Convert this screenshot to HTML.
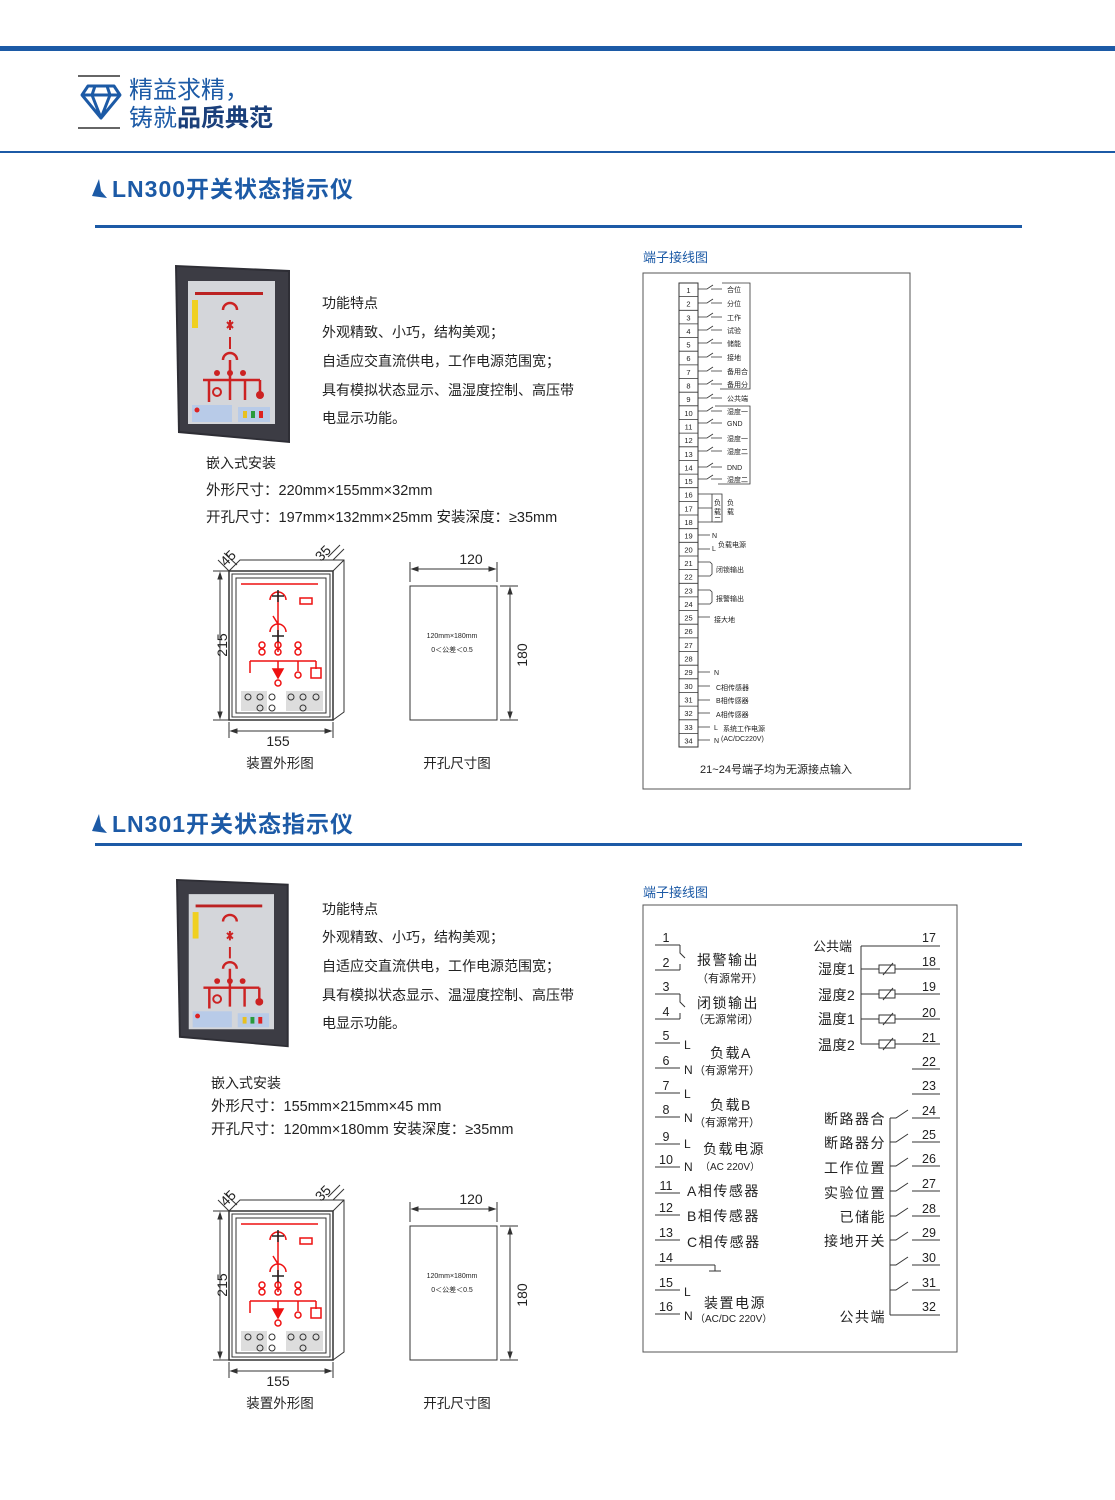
<!DOCTYPE html>
<html><head><meta charset="utf-8"><style>
html,body{margin:0;padding:0;background:#fff}
svg{display:block}
text{font-family:"Liberation Sans","Noto Sans CJK SC",sans-serif}
</style></head><body>
<svg width="1115" height="1500" viewBox="0 0 1115 1500" xmlns="http://www.w3.org/2000/svg">
<defs>
<g id="dev">
  <path d="M0,0 L115,5 L115,178 L3,168 Z" fill="#2e2e35"/>
  <path d="M2,2 L113,7 L113,176 L5,166 Z" fill="#3c3c44"/>
  <rect x="13" y="16" width="87" height="143" fill="#d4d6da"/>
  <rect x="20" y="27" width="68" height="3" fill="#b22"/>
  <rect x="17" y="35" width="6" height="28" fill="#f0d020"/>
  <path d="M48,45 a7,7 0 0 1 14,0" fill="none" stroke="#c22" stroke-width="2.5"/>
  <path d="M55,55 l0,10 M52,57 l6,6 M58,57 l-6,6 M55,72 l0,12" stroke="#c22" stroke-width="2"/>
  <path d="M48,95 a7,7 0 0 1 14,0" fill="none" stroke="#c22" stroke-width="2.5"/>
  <path d="M55,95 l0,40 M28,115 l57,0 M34,115 l0,22 M70,115 l0,20 M85,115 l0,15" stroke="#c22" stroke-width="2.5"/>
  <circle cx="42" cy="108" r="3" fill="#c22"/><circle cx="55" cy="108" r="3" fill="#c22"/><circle cx="68" cy="108" r="3" fill="#c22"/>
  <circle cx="42" cy="127" r="4" fill="none" stroke="#c22" stroke-width="2"/><circle cx="85" cy="130" r="4" fill="#c22"/>
  <rect x="17" y="140" width="40" height="17" fill="#b8cbe8"/>
  <rect x="63" y="142" width="32" height="15" fill="#b8cbe8"/>
  <rect x="68" y="146" width="4" height="7" fill="#e8c020"/><rect x="76" y="146" width="4" height="7" fill="#2a9a3a"/><rect x="84" y="146" width="4" height="7" fill="#d22"/>
  <circle cx="22" cy="145" r="2.5" fill="#d22"/>
</g>
<g id="outl" fill="none" stroke="#333" stroke-width="1">
  <path d="M229,571 L240,560 L344,560 L344,712 L333,720"/>
  <path d="M333,571 L344,560"/>
  <rect x="229" y="571" width="104" height="149" stroke-width="1.5"/>
  <rect x="232" y="574" width="98" height="143"/>
  <rect x="236" y="578" width="90" height="135" fill="#fff"/>
  <line x1="213" y1="571" x2="229" y2="571"/><line x1="213" y1="720" x2="229" y2="720"/>
  <line x1="220" y1="573" x2="220" y2="718"/>
  <path d="M220,573 l-2,6 l4,0z M220,718 l-2,-6 l4,0z" fill="#333"/>
  <line x1="229" y1="722" x2="229" y2="738"/><line x1="333" y1="722" x2="333" y2="738"/>
  <line x1="231" y1="731" x2="331" y2="731"/>
  <path d="M231,731 l6,-2 l0,4z M331,731 l-6,-2 l0,4z" fill="#333"/>
  <line x1="218" y1="560" x2="229" y2="571"/><line x1="224" y1="553" x2="237" y2="565"/>
  <line x1="333" y1="560" x2="344" y2="549"/>
  <line x1="328" y1="557" x2="340" y2="545"/>
  <g stroke="#e11" stroke-width="1.5">
    <line x1="241" y1="584" x2="318" y2="584"/>
    <path d="M270,600 a8,8 0 0 1 16,0 M270,632 a8,8 0 0 1 16,0"/>
    <path d="M278,592 l0,60 M278,624 l-5,-8 M250,661 l66,0 M250,661 l0,12 M278,661 l0,8 M298,661 l0,10 M316,661 l0,8"/>
    <circle cx="262" cy="645" r="3"/><circle cx="278" cy="645" r="3"/><circle cx="298" cy="645" r="3"/>
    <circle cx="262" cy="652" r="3"/><circle cx="278" cy="652" r="3"/><circle cx="298" cy="652" r="3"/>
    <path d="M273,669 l10,0 l-5,9z" fill="#e11"/>
    <circle cx="298" cy="675" r="3"/><circle cx="278" cy="683" r="3"/>
    <rect x="311" y="668" width="10" height="10"/>
    <rect x="300" y="598" width="12" height="6"/>
  </g>
  <path d="M272,596 l12,0 M278,590 l0,12 M272,636 l12,0 M278,630 l0,12" stroke="#222" stroke-width="1.5"/>
  <rect x="241" y="691" width="26" height="20" fill="#ddd" stroke="none"/>
  <rect x="286" y="691" width="37" height="20" fill="#ddd" stroke="none"/>
  <circle cx="248" cy="697" r="3"/><circle cx="260" cy="697" r="3"/><circle cx="272" cy="697" r="3"/>
  <circle cx="260" cy="708" r="3"/><circle cx="272" cy="708" r="3"/>
  <circle cx="291" cy="697" r="3"/><circle cx="303" cy="697" r="3"/><circle cx="316" cy="697" r="3"/><circle cx="303" cy="708" r="3"/>
</g>
<g id="cut" fill="none" stroke="#333" stroke-width="1">
  <rect x="410" y="586" width="87" height="134"/>
  <line x1="410" y1="562" x2="410" y2="582"/><line x1="497" y1="562" x2="497" y2="582"/>
  <line x1="412" y1="569" x2="495" y2="569"/>
  <path d="M412,569 l6,-2 l0,4z M495,569 l-6,-2 l0,4z" fill="#333"/>
  <line x1="500" y1="586" x2="518" y2="586"/><line x1="500" y1="720" x2="518" y2="720"/>
  <line x1="510" y1="588" x2="510" y2="718"/>
  <path d="M510,588 l-2,6 l4,0z M510,718 l-2,-6 l4,0z" fill="#333"/>
</g>
</defs>

<!-- header -->
<rect x="0" y="46" width="1115" height="5" fill="#1c5aa6"/>
<line x1="78" y1="76" x2="120" y2="76" stroke="#333" stroke-width="1.5"/>
<line x1="78" y1="128" x2="120" y2="128" stroke="#333" stroke-width="1.5"/>
<g fill="none" stroke="#1c5aa6" stroke-width="3" stroke-linejoin="round">
<path d="M82,95 L88,86 L114,86 L120,95 L101,118 Z M82,95 L120,95 M95,86 L92,95 L101,118 L110,95 L107,86"/>
</g>
<text x="129" y="98" font-size="24" fill="#1c5aa6">精益求精，</text>
<text x="129" y="126" font-size="24" fill="#1c5aa6">铸就<tspan font-weight="bold" fill="#1a3f7a">品质典范</tspan></text>
<rect x="0" y="151" width="1115" height="2" fill="#1c5aa6"/>

<!-- section 1 -->
<path d="M99,179 L92,196 L107,198 L101,191 Z" fill="#1c5aa6"/>
<text x="112" y="197" font-size="23" font-weight="bold" fill="#1c5aa6" letter-spacing="1">LN300开关状态指示仪</text>
<rect x="95" y="225" width="927" height="3" fill="#1c5aa6"/>
<use href="#dev" transform="translate(175,265)"/>
<g font-size="14" fill="#222">
<text x="322" y="308">功能特点</text>
<text x="322" y="337">外观精致、小巧，结构美观；</text>
<text x="322" y="366">自适应交直流供电，工作电源范围宽；</text>
<text x="322" y="395">具有模拟状态显示、温湿度控制、高压带</text>
<text x="322" y="423">电显示功能。</text>
<text x="206" y="468">嵌入式安装</text>
<text x="206" y="495" font-size="14.5">外形尺寸：220mm×155mm×32mm</text>
<text x="206" y="522" font-size="14.5">开孔尺寸：197mm×132mm×25mm  安装深度：≥35mm</text>
</g>
<use href="#outl"/>
<use href="#cut"/>
<g font-size="14" fill="#222">
<text x="218" y="562" transform="rotate(-45 228 555)">45</text>
<text x="315" y="562" transform="rotate(-45 318 555)">35</text>
<text x="218" y="654" transform="rotate(-90 218 645)" text-anchor="middle">215</text>
<text x="278" y="746" text-anchor="middle">155</text>
<text x="280" y="768" text-anchor="middle" font-size="13.5">装置外形图</text>
<text x="471" y="564" text-anchor="middle">120</text>
<text x="527" y="655" transform="rotate(-90 527 655)" text-anchor="middle">180</text>
<text x="457" y="768" text-anchor="middle" font-size="13.5">开孔尺寸图</text>
<text x="452" y="638" text-anchor="middle" font-size="7">120mm×180mm</text>
<text x="452" y="652" text-anchor="middle" font-size="7">0＜公差＜0.5</text>
</g>

<text x="643" y="262" font-size="13" fill="#1c5aa6">端子接线图</text>
<rect x="643" y="273" width="267" height="516" fill="none" stroke="#555" stroke-width="1"/>
<rect x="679" y="283" width="19" height="464" fill="none" stroke="#333" stroke-width="1"/>
<g stroke="#333" stroke-width="0.8">
<line x1="679" y1="296.6" x2="698" y2="296.6"/><line x1="679" y1="310.3" x2="698" y2="310.3"/><line x1="679" y1="323.9" x2="698" y2="323.9"/><line x1="679" y1="337.6" x2="698" y2="337.6"/><line x1="679" y1="351.2" x2="698" y2="351.2"/><line x1="679" y1="364.9" x2="698" y2="364.9"/><line x1="679" y1="378.5" x2="698" y2="378.5"/><line x1="679" y1="392.2" x2="698" y2="392.2"/><line x1="679" y1="405.8" x2="698" y2="405.8"/><line x1="679" y1="419.5" x2="698" y2="419.5"/><line x1="679" y1="433.1" x2="698" y2="433.1"/><line x1="679" y1="446.8" x2="698" y2="446.8"/><line x1="679" y1="460.4" x2="698" y2="460.4"/><line x1="679" y1="474.1" x2="698" y2="474.1"/><line x1="679" y1="487.7" x2="698" y2="487.7"/><line x1="679" y1="501.4" x2="698" y2="501.4"/><line x1="679" y1="515" x2="698" y2="515"/><line x1="679" y1="528.7" x2="698" y2="528.7"/><line x1="679" y1="542.3" x2="698" y2="542.3"/><line x1="679" y1="556" x2="698" y2="556"/><line x1="679" y1="569.6" x2="698" y2="569.6"/><line x1="679" y1="583.3" x2="698" y2="583.3"/><line x1="679" y1="596.9" x2="698" y2="596.9"/><line x1="679" y1="610.6" x2="698" y2="610.6"/><line x1="679" y1="624.2" x2="698" y2="624.2"/><line x1="679" y1="637.9" x2="698" y2="637.9"/><line x1="679" y1="651.5" x2="698" y2="651.5"/><line x1="679" y1="665.2" x2="698" y2="665.2"/><line x1="679" y1="678.8" x2="698" y2="678.8"/><line x1="679" y1="692.5" x2="698" y2="692.5"/><line x1="679" y1="706.1" x2="698" y2="706.1"/><line x1="679" y1="719.8" x2="698" y2="719.8"/><line x1="679" y1="733.4" x2="698" y2="733.4"/>
</g>
<g font-size="7.5" fill="#222" text-anchor="middle">
<text x="688.5" y="293">1</text><text x="688.5" y="306.6">2</text><text x="688.5" y="320.3">3</text><text x="688.5" y="333.9">4</text><text x="688.5" y="347.6">5</text><text x="688.5" y="361.2">6</text><text x="688.5" y="374.9">7</text><text x="688.5" y="388.5">8</text><text x="688.5" y="402.2">9</text><text x="688.5" y="415.8">10</text><text x="688.5" y="429.5">11</text><text x="688.5" y="443.1">12</text><text x="688.5" y="456.8">13</text><text x="688.5" y="470.4">14</text><text x="688.5" y="484.1">15</text><text x="688.5" y="497.7">16</text><text x="688.5" y="511.4">17</text><text x="688.5" y="525">18</text><text x="688.5" y="538.7">19</text><text x="688.5" y="552.3">20</text><text x="688.5" y="566">21</text><text x="688.5" y="579.6">22</text><text x="688.5" y="593.3">23</text><text x="688.5" y="606.9">24</text><text x="688.5" y="620.6">25</text><text x="688.5" y="634.2">26</text><text x="688.5" y="647.9">27</text><text x="688.5" y="661.5">28</text><text x="688.5" y="675.2">29</text><text x="688.5" y="688.8">30</text><text x="688.5" y="702.5">31</text><text x="688.5" y="716.1">32</text><text x="688.5" y="729.8">33</text><text x="688.5" y="743.4">34</text>
</g>
<g stroke="#333" stroke-width="0.8" fill="none">
<path d="M698,289 h9 l6,-4 M711,289 h11"/><path d="M698,303 h9 l6,-4 M711,303 h11"/><path d="M698,317 h9 l6,-4 M711,317 h11"/><path d="M698,330 h9 l6,-4 M711,330 h11"/><path d="M698,343 h9 l6,-4 M711,343 h11"/><path d="M698,357 h9 l6,-4 M711,357 h11"/><path d="M698,371 h9 l6,-4 M711,371 h11"/><path d="M698,384 h9 l6,-4 M711,384 h11"/><path d="M698,398 h9 l6,-4 M711,398 h11"/>
<path d="M722,283 h28 v106 h-30"/>
<path d="M698,411 h9 l6,-4 M711,411 h11"/><path d="M698,423 h9 l6,-4 M711,423 h11"/><path d="M698,438 h9 l6,-4 M711,438 h11"/><path d="M698,451 h9 l6,-4 M711,451 h11"/><path d="M698,467 h9 l6,-4 M711,467 h11"/><path d="M698,479 h9 l6,-4 M711,479 h11"/>
<path d="M715,406 h35 v78 h-32"/>
<path d="M698,494 h14 v28 h-14 M698,508 h14 M712,494 h10 v28 h-10"/>
<path d="M698,535 h12 M698,549 h12 M698,562 h12 l2,2 v10 l-2,2 h-12 M698,590 h12 l2,2 v10 l-2,2 h-12 M698,617 h12 M698,672 h12 M698,686 h12 M698,700 h12 M698,713 h12 M698,727 h12 M698,740 h12"/>
</g>
<g font-size="7" fill="#222">
<text x="727" y="292">合位</text><text x="727" y="306">分位</text><text x="727" y="320">工作</text><text x="727" y="333">试验</text><text x="727" y="346">储能</text><text x="727" y="360">接地</text><text x="727" y="374">备用合</text><text x="727" y="387">备用分</text><text x="727" y="401">公共端</text>
<text x="727" y="414">湿度一</text><text x="727" y="426">GND</text><text x="727" y="441">湿度一</text><text x="727" y="454">湿度二</text><text x="727" y="470">DND</text><text x="727" y="482">湿度二</text>
<text x="714" y="505">负</text><text x="714" y="514">载</text><text x="714" y="522">二</text><text x="727" y="505">负</text><text x="727" y="514">载</text>
<text x="712" y="538">N</text><text x="712" y="551">L</text><text x="718" y="547">负载电源</text>
<text x="716" y="572">闭锁输出</text><text x="716" y="601">报警输出</text><text x="714" y="622">接大地</text>
<text x="714" y="675">N</text><text x="716" y="690">C相传感器</text><text x="716" y="703">B相传感器</text><text x="716" y="717">A相传感器</text>
<text x="714" y="730">L</text><text x="723" y="731">系统工作电源</text><text x="714" y="743">N</text><text x="721" y="741">(AC/DC220V)</text>
</g>
<text x="776" y="773" font-size="11" fill="#222" text-anchor="middle">21~24号端子均为无源接点输入</text>

<!-- section 2 -->
<path d="M99,814 L92,831 L107,833 L101,826 Z" fill="#1c5aa6"/>
<text x="112" y="832" font-size="23" font-weight="bold" fill="#1c5aa6" letter-spacing="1">LN301开关状态指示仪</text>
<rect x="95" y="843" width="927" height="3" fill="#1c5aa6"/>
<use href="#dev" transform="translate(176,879) scale(0.98,0.945)"/>
<g font-size="14" fill="#222">
<text x="322" y="914">功能特点</text>
<text x="322" y="942">外观精致、小巧，结构美观；</text>
<text x="322" y="971">自适应交直流供电，工作电源范围宽；</text>
<text x="322" y="1000">具有模拟状态显示、温湿度控制、高压带</text>
<text x="322" y="1028">电显示功能。</text>
<text x="211" y="1088">嵌入式安装</text>
<text x="211" y="1111" font-size="14.5">外形尺寸：155mm×215mm×45 mm</text>
<text x="211" y="1134" font-size="14.5">开孔尺寸：120mm×180mm      安装深度：≥35mm</text>
</g>
<use href="#outl" transform="translate(0,640)"/>
<use href="#cut" transform="translate(0,640)"/>
<g font-size="14" fill="#222">
<text x="218" y="1202" transform="rotate(-45 228 1195)">45</text>
<text x="315" y="1202" transform="rotate(-45 318 1195)">35</text>
<text x="218" y="1294" transform="rotate(-90 218 1285)" text-anchor="middle">215</text>
<text x="278" y="1386" text-anchor="middle">155</text>
<text x="280" y="1408" text-anchor="middle" font-size="13.5">装置外形图</text>
<text x="471" y="1204" text-anchor="middle">120</text>
<text x="527" y="1295" transform="rotate(-90 527 1295)" text-anchor="middle">180</text>
<text x="457" y="1408" text-anchor="middle" font-size="13.5">开孔尺寸图</text>
<text x="452" y="1278" text-anchor="middle" font-size="7">120mm×180mm</text>
<text x="452" y="1292" text-anchor="middle" font-size="7">0＜公差＜0.5</text>
</g>

<text x="643" y="897" font-size="13" fill="#1c5aa6">端子接线图</text>
<rect x="643" y="905" width="314" height="447" fill="none" stroke="#555" stroke-width="1"/>
<g stroke="#333" stroke-width="1" fill="none">
<line x1="655" y1="945" x2="680" y2="945"/><line x1="655" y1="970" x2="680" y2="970"/><line x1="655" y1="994" x2="680" y2="994"/><line x1="655" y1="1019" x2="680" y2="1019"/>
<line x1="655" y1="1043" x2="680" y2="1043"/><line x1="655" y1="1068" x2="680" y2="1068"/><line x1="655" y1="1093" x2="680" y2="1093"/><line x1="655" y1="1117" x2="680" y2="1117"/>
<line x1="655" y1="1144" x2="680" y2="1144"/><line x1="655" y1="1167" x2="680" y2="1167"/><line x1="655" y1="1193" x2="680" y2="1193"/><line x1="655" y1="1215" x2="680" y2="1215"/>
<line x1="655" y1="1240" x2="680" y2="1240"/><line x1="655" y1="1265" x2="715" y2="1265"/><line x1="655" y1="1290" x2="680" y2="1290"/><line x1="655" y1="1314" x2="680" y2="1314"/>
<path d="M680,945 v8 l5,5 M680,970 v-6"/><path d="M680,994 v8 l5,5 M680,1019 v-6"/>
<path d="M715,1265 v6 M709,1271 h12"/>
<line x1="861" y1="946" x2="861" y2="1044"/>
<line x1="861" y1="946" x2="912" y2="946"/>
<path d="M861,969 h18 M895,969 h45 M861,994 h18 M895,994 h45 M861,1019 h18 M895,1019 h45 M861,1044 h18 M895,1044 h45"/>
<rect x="879" y="965" width="16" height="8"/><rect x="879" y="990" width="16" height="8"/><rect x="879" y="1015" width="16" height="8"/><rect x="879" y="1040" width="16" height="8"/>
<path d="M883,975 l10,-12 M883,1000 l10,-12 M883,1025 l10,-12 M883,1050 l10,-12"/>
<line x1="912" y1="946" x2="940" y2="946"/><line x1="912" y1="1069" x2="940" y2="1069"/><line x1="912" y1="1094" x2="940" y2="1094"/>
<line x1="890" y1="1118" x2="890" y2="1315"/>
<path d="M890,1118 h6 l12,-8 M890,1142 h6 l12,-8 M890,1166 h6 l12,-8 M890,1191 h6 l12,-8 M890,1216 h6 l12,-8 M890,1240 h6 l12,-8 M890,1265 h6 l12,-8 M890,1290 h6 l12,-8 M890,1315 h50"/>
<path d="M912,1118 h28 M912,1142 h28 M912,1166 h28 M912,1191 h28 M912,1216 h28 M912,1240 h28 M912,1265 h28 M912,1290 h28"/>
</g>
<g font-size="12.5" fill="#222" text-anchor="middle">
<text x="666" y="942">1</text><text x="666" y="967">2</text><text x="666" y="991">3</text><text x="666" y="1016">4</text><text x="666" y="1040">5</text><text x="666" y="1065">6</text><text x="666" y="1090">7</text><text x="666" y="1114">8</text><text x="666" y="1141">9</text><text x="666" y="1164">10</text><text x="666" y="1190">11</text><text x="666" y="1212">12</text><text x="666" y="1237">13</text><text x="666" y="1262">14</text><text x="666" y="1287">15</text><text x="666" y="1311">16</text>
<text x="929" y="942">17</text><text x="929" y="966">18</text><text x="929" y="991">19</text><text x="929" y="1017">20</text><text x="929" y="1042">21</text><text x="929" y="1066">22</text><text x="929" y="1090">23</text><text x="929" y="1115">24</text><text x="929" y="1139">25</text><text x="929" y="1163">26</text><text x="929" y="1188">27</text><text x="929" y="1213">28</text><text x="929" y="1237">29</text><text x="929" y="1262">30</text><text x="929" y="1287">31</text><text x="929" y="1311">32</text>
</g>
<g font-size="14" fill="#222" letter-spacing="1.5">
<text x="697" y="965">报警输出</text><text x="697" y="982" font-size="11" letter-spacing="0">（有源常开）</text>
<text x="697" y="1008">闭锁输出</text><text x="693" y="1023" font-size="11" letter-spacing="0">（无源常闭）</text>
<text x="684" y="1049" font-size="12">L</text><text x="710" y="1058">负载A</text><text x="684" y="1074" font-size="12">N</text><text x="694" y="1074" font-size="11" letter-spacing="0">（有源常开）</text>
<text x="684" y="1098" font-size="12">L</text><text x="710" y="1110">负载B</text><text x="684" y="1122" font-size="12">N</text><text x="694" y="1126" font-size="11" letter-spacing="0">（有源常开）</text>
<text x="684" y="1148" font-size="12">L</text><text x="703" y="1154">负载电源</text><text x="684" y="1171" font-size="12">N</text><text x="700" y="1170" font-size="10" letter-spacing="0">（AC 220V）</text>
<text x="687" y="1196">A相传感器</text><text x="687" y="1221">B相传感器</text><text x="687" y="1247">C相传感器</text>
<text x="684" y="1296" font-size="12">L</text><text x="704" y="1308">装置电源</text><text x="684" y="1320" font-size="12">N</text><text x="695" y="1322" font-size="10" letter-spacing="0">（AC/DC 220V）</text>
<text x="813" y="951" font-size="13" letter-spacing="0">公共端</text>
<text x="818" y="974" letter-spacing="0.5">湿度1</text><text x="818" y="1000" letter-spacing="0.5">湿度2</text><text x="818" y="1024" letter-spacing="0.5">温度1</text><text x="818" y="1050" letter-spacing="0.5">温度2</text>
<text x="886" y="1124" text-anchor="end">断路器合</text><text x="886" y="1148" text-anchor="end">断路器分</text><text x="886" y="1173" text-anchor="end">工作位置</text><text x="886" y="1198" text-anchor="end">实验位置</text><text x="886" y="1222" text-anchor="end">已储能</text><text x="886" y="1246" text-anchor="end">接地开关</text>
<text x="886" y="1322" text-anchor="end">公共端</text>
</g>
</svg>
</body></html>
